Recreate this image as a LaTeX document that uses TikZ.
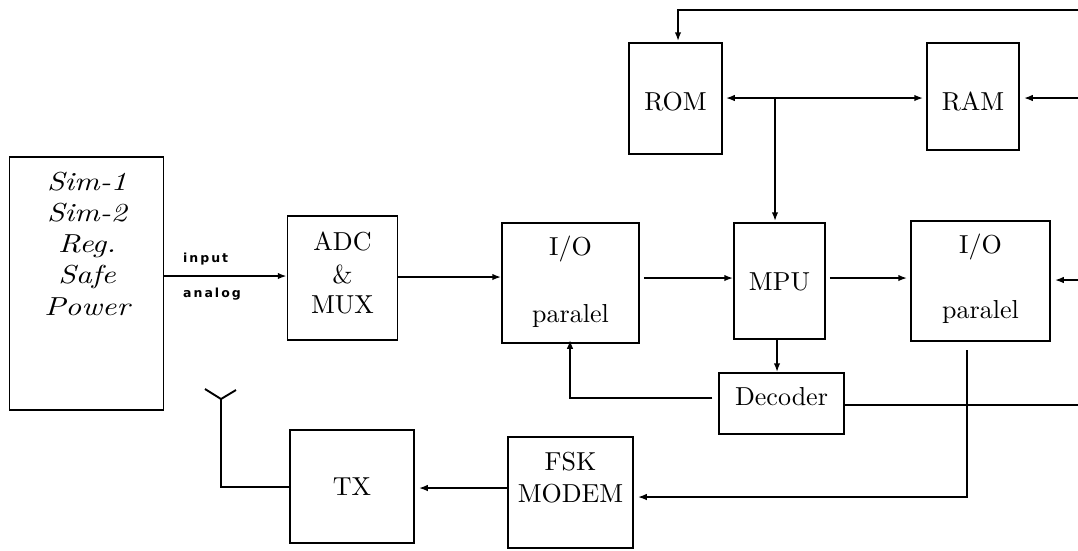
\documentclass[tikz,border=0pt]{standalone}
\usepackage{fontspec}
\usetikzlibrary{arrows.meta,calc}
\newfontfamily\lblfont[LetterSpace=16]{DejaVu Sans}
\newfontfamily\boxfont{lmroman10-regular.otf}
\newfontfamily\boxitfont{lmroman10-italic.otf}
\newcommand\widtxt[1]{\scalebox{1.2}[1]{#1}}
\tikzset{
  blk/.style={draw, line width=1.5pt, minimum width=#1, inner sep=0pt},
  txt/.style={anchor=base, inner sep=0pt, font=\boxfont\fontsize{26}{26}\selectfont},
  simtxt/.style={anchor=base, inner sep=0pt, font=\boxitfont\fontsize{26}{26}\selectfont},
  lbl/.style={anchor=base west, inner sep=0pt, font=\fontsize{12.5}{12.5}\selectfont\lblfont\bfseries},
  con/.style={line width=1.9pt},
  arr/.style={con, -{Latex[length=9pt,width=6.5pt]}},
  darr/.style={con, {Latex[length=9pt,width=6.5pt]}-{Latex[length=9pt,width=6.5pt]}}
}
\begin{document}
\begin{tikzpicture}[x=1pt,y=-1pt]
\path[use as bounding box] (0,0) rectangle (1078,550);
% blocks
\node[blk=154pt, minimum height=253pt] (sim) at (86.5,283.5) {};
\node[blk=110pt, minimum height=124pt] (adc) at (342.5,278) {};
\node[blk=137pt, minimum height=120pt] (io1) at (570.5,283) {};
\node[blk=91pt,  minimum height=116pt] (mpu) at (779.5,281) {};
\node[blk=139pt, minimum height=120pt] (io2) at (980.5,281) {};
\node[blk=125pt, minimum height=61pt]  (dec) at (781.5,403.5) {};
\node[blk=125pt, minimum height=111pt] (fsk) at (570.5,492.5) {};
\node[blk=124pt, minimum height=113pt] (tx)  at (352,486.5) {};
\node[blk=93pt,  minimum height=111pt] (rom) at (675.5,98.5) {};
\node[blk=92pt,  minimum height=107pt] (ram) at (973,96.5) {};
% texts
\node[simtxt] (s1) at (87,190) {\widtxt{Sim-1}};
\node[simtxt] (s2) at (87,221) {\widtxt{Sim-2}};
\node[simtxt] (s3) at (87,252) {\widtxt{Reg.}};
\node[simtxt] (s4) at (87,283) {\widtxt{Safe}};
\node[simtxt] (s5) at (87,315) {\widtxt{Power}};
\node[lbl] (in1) at (183,262) {input};
\node[lbl] (in2) at (183,297) {analog};
\node[txt] (adc1) at (342.5,250) {ADC};
\node[txt] (adc2) at (342.5,283) {\&};
\node[txt] (adc3) at (342.5,313) {MUX};
\node[txt] (io1a) at (570.5,255) {I/O};
\node[txt] (io1b) at (570.5,322) {paralel};
\node[txt] (mpua) at (779.5,290) {MPU};
\node[txt] (io2a) at (980.5,253) {I/O};
\node[txt] (io2b) at (980.5,318) {paralel};
\node[txt] (deca) at (781.5,405) {Decoder};
\node[txt] (fska) at (570.5,470) {FSK};
\node[txt] (fskb) at (570.5,502) {MODEM};
\node[txt] (txa)  at (352,495) {TX};
\node[txt] (roma) at (675.5,110) {ROM};
\node[txt] (rama) at (973,110) {RAM};
% free-end coordinates
\coordinate (bus) at (775,98);
\coordinate (topR) at (1078,10);
\coordinate (topL) at (678,10);
\coordinate (ramR) at (1078,98);
\coordinate (ioR) at (1078,280);
\coordinate (decR) at (1078,405);
\coordinate (fb) at (570,398);
\coordinate (dn1) at (967,350);
\coordinate (dn2) at (967,497);
\coordinate (ant) at (221,487);
\coordinate (antJ) at (221,399);
\coordinate (antL) at (205,389);
\coordinate (antR) at (236,390);
% connectors
\draw[arr] (sim.east |- 0,276) -- (adc.west |- 0,276);
\draw[arr] (adc.east |- 0,277) -- (io1.west |- 0,277);
\draw[arr] ([xshift=4pt]io1.east |- 0,278) -- (mpu.west |- 0,278);
\draw[arr] ([xshift=4pt]mpu.east |- 0,278) -- ([xshift=-3pt]io2.west |- 0,278);
\draw[arr] (ioR) -- ([xshift=4pt]io2.east |- ioR);
\draw[darr] ([xshift=3pt]rom.east |- bus) -- ([xshift=-3pt]ram.west |- bus);
\draw[arr] (bus) -- ([yshift=1pt]mpu.north -| bus);
\draw[arr] (topR) -- (topL) -- ([yshift=1pt]rom.north -| topL);
\draw[arr] (ramR) -- ([xshift=4pt]ram.east |- ramR);
\draw[arr] (mpu.south -| 777,0) -- (dec.north -| 777,0);
\draw[con] (dec.east |- decR) -- (decR);
\draw[arr] ([xshift=-6pt]dec.west |- fb) -- (fb) -- ([yshift=4pt]io1.south -| fb);
\draw[arr] (dn1) -- (dn2) -- ([xshift=4pt]fsk.east |- dn2);
\draw[arr] (fsk.west |- 0,488) -- ([xshift=4pt]tx.east |- 0,488);
\draw[con] (tx.west |- ant) -- (ant) -- (antJ);
\draw[con] (antL) -- (antJ) -- (antR);
\end{tikzpicture}
\end{document}
